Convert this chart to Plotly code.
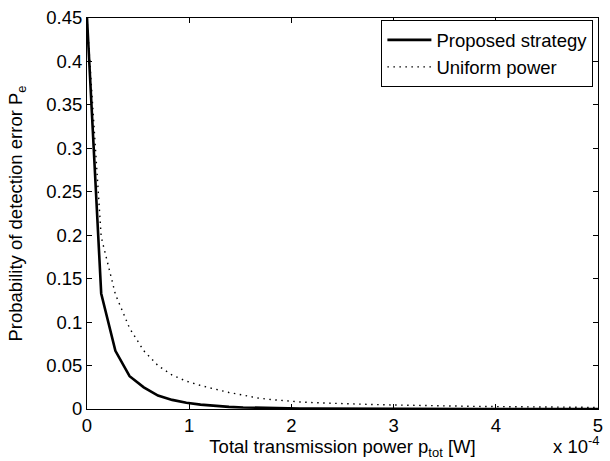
import plotly.graph_objects as go

# Total transmission power (in units of 1e-4 W)
p_tot = [0.0, 0.1389, 0.2778, 0.4167, 0.5556, 0.6944, 0.8333, 0.9722, 1.1111, 1.25,
         1.3889, 1.5278, 1.6667, 1.8056, 1.9444, 2.0833, 2.2222, 2.3611, 2.5, 2.6389,
         2.7778, 2.9167, 3.0556, 3.1944, 3.3333, 3.4722, 3.6111, 3.75, 3.8889, 4.0278,
         4.1667, 4.3056, 4.4444, 4.5833, 4.7222, 4.8611, 5.0]

pe_proposed = [0.45, 0.133, 0.067, 0.0377, 0.0249, 0.0154, 0.0105, 0.0072, 0.005, 0.0035,
               0.0025, 0.0018, 0.0013, 0.0009, 0.0007, 0.0005, 0.0004, 0.0003, 0.0002, 0.00015,
               0.0001, 0.00008, 0.00006, 0.00005, 0.00004, 0.00003, 0.00002, 0.00002, 0.00001, 0.00001,
               0.00001, 0.00001, 0.0, 0.0, 0.0, 0.0, 0.0]

pe_uniform = [0.45, 0.198, 0.132, 0.093, 0.067, 0.050, 0.039, 0.032, 0.027, 0.023,
              0.019, 0.016, 0.0127, 0.0108, 0.0092, 0.0081, 0.0073, 0.0066, 0.0061, 0.0056,
              0.0052, 0.0048, 0.0044, 0.0041, 0.0038, 0.0035, 0.0033, 0.0031, 0.0029, 0.0027,
              0.0025, 0.0024, 0.0022, 0.0021, 0.0020, 0.0019, 0.0018]

x_tick_vals = [0, 1, 2, 3, 4, 5]
x_tick_text = ["0", "1", "2", "3", "4", "5"]
y_tick_vals = [0, 0.05, 0.1, 0.15, 0.2, 0.25, 0.3, 0.35, 0.4, 0.45]
y_tick_text = ["0", "0.05", "0.1", "0.15", "0.2", "0.25", "0.3", "0.35", "0.4", "0.45"]

FONT = "Liberation Sans, Arial, Helvetica, sans-serif"
FS = 18.5

fig = go.Figure()
fig.add_trace(go.Scatter(x=p_tot, y=pe_proposed, mode="lines", name="Proposed strategy",
                         line=dict(color="black", width=2.6)))
fig.add_trace(go.Scatter(x=p_tot, y=pe_uniform, mode="lines", name="Uniform power",
                         line=dict(color="black", width=1.4, dash="1.5px,4.5px")))

axis_common = dict(showline=True, linecolor="black", linewidth=1, mirror="ticks",
                   ticks="inside", ticklen=5, tickcolor="black", tickwidth=1,
                   showgrid=False, zeroline=False,
                   tickfont=dict(family=FONT, size=FS, color="black"))

fig.update_layout(
    width=610, height=461,
    margin=dict(l=87, r=7, t=13, b=52),
    paper_bgcolor="white", plot_bgcolor="white",
    font=dict(family=FONT, size=FS, color="black"),
    xaxis=dict(range=[0, 5], tickvals=x_tick_vals, ticktext=x_tick_text,
               title=dict(text="Total transmission power p<sub>tot</sub> [W]",
                          font=dict(family=FONT, size=FS), standoff=1),
               **axis_common),
    yaxis=dict(range=[0, 0.45], tickvals=y_tick_vals, ticktext=y_tick_text,
               title=dict(text="Probability of detection error P<sub>e</sub>",
                          font=dict(family=FONT, size=FS), standoff=18),
               **axis_common),
    showlegend=True,
    legend=dict(x=0.991, y=0.994, xanchor="right", yanchor="top",
                bgcolor="white", bordercolor="black", borderwidth=1,
                font=dict(family=FONT, size=FS, color="black"),
                tracegroupgap=0, itemwidth=44),
)

fig.add_annotation(text="x 10<sup>-4</sup>", xref="paper", yref="paper",
                   x=1.006, y=-0.129, xanchor="right", yanchor="bottom",
                   showarrow=False, font=dict(family=FONT, size=FS, color="black"))

fig.write_html("out.html")
